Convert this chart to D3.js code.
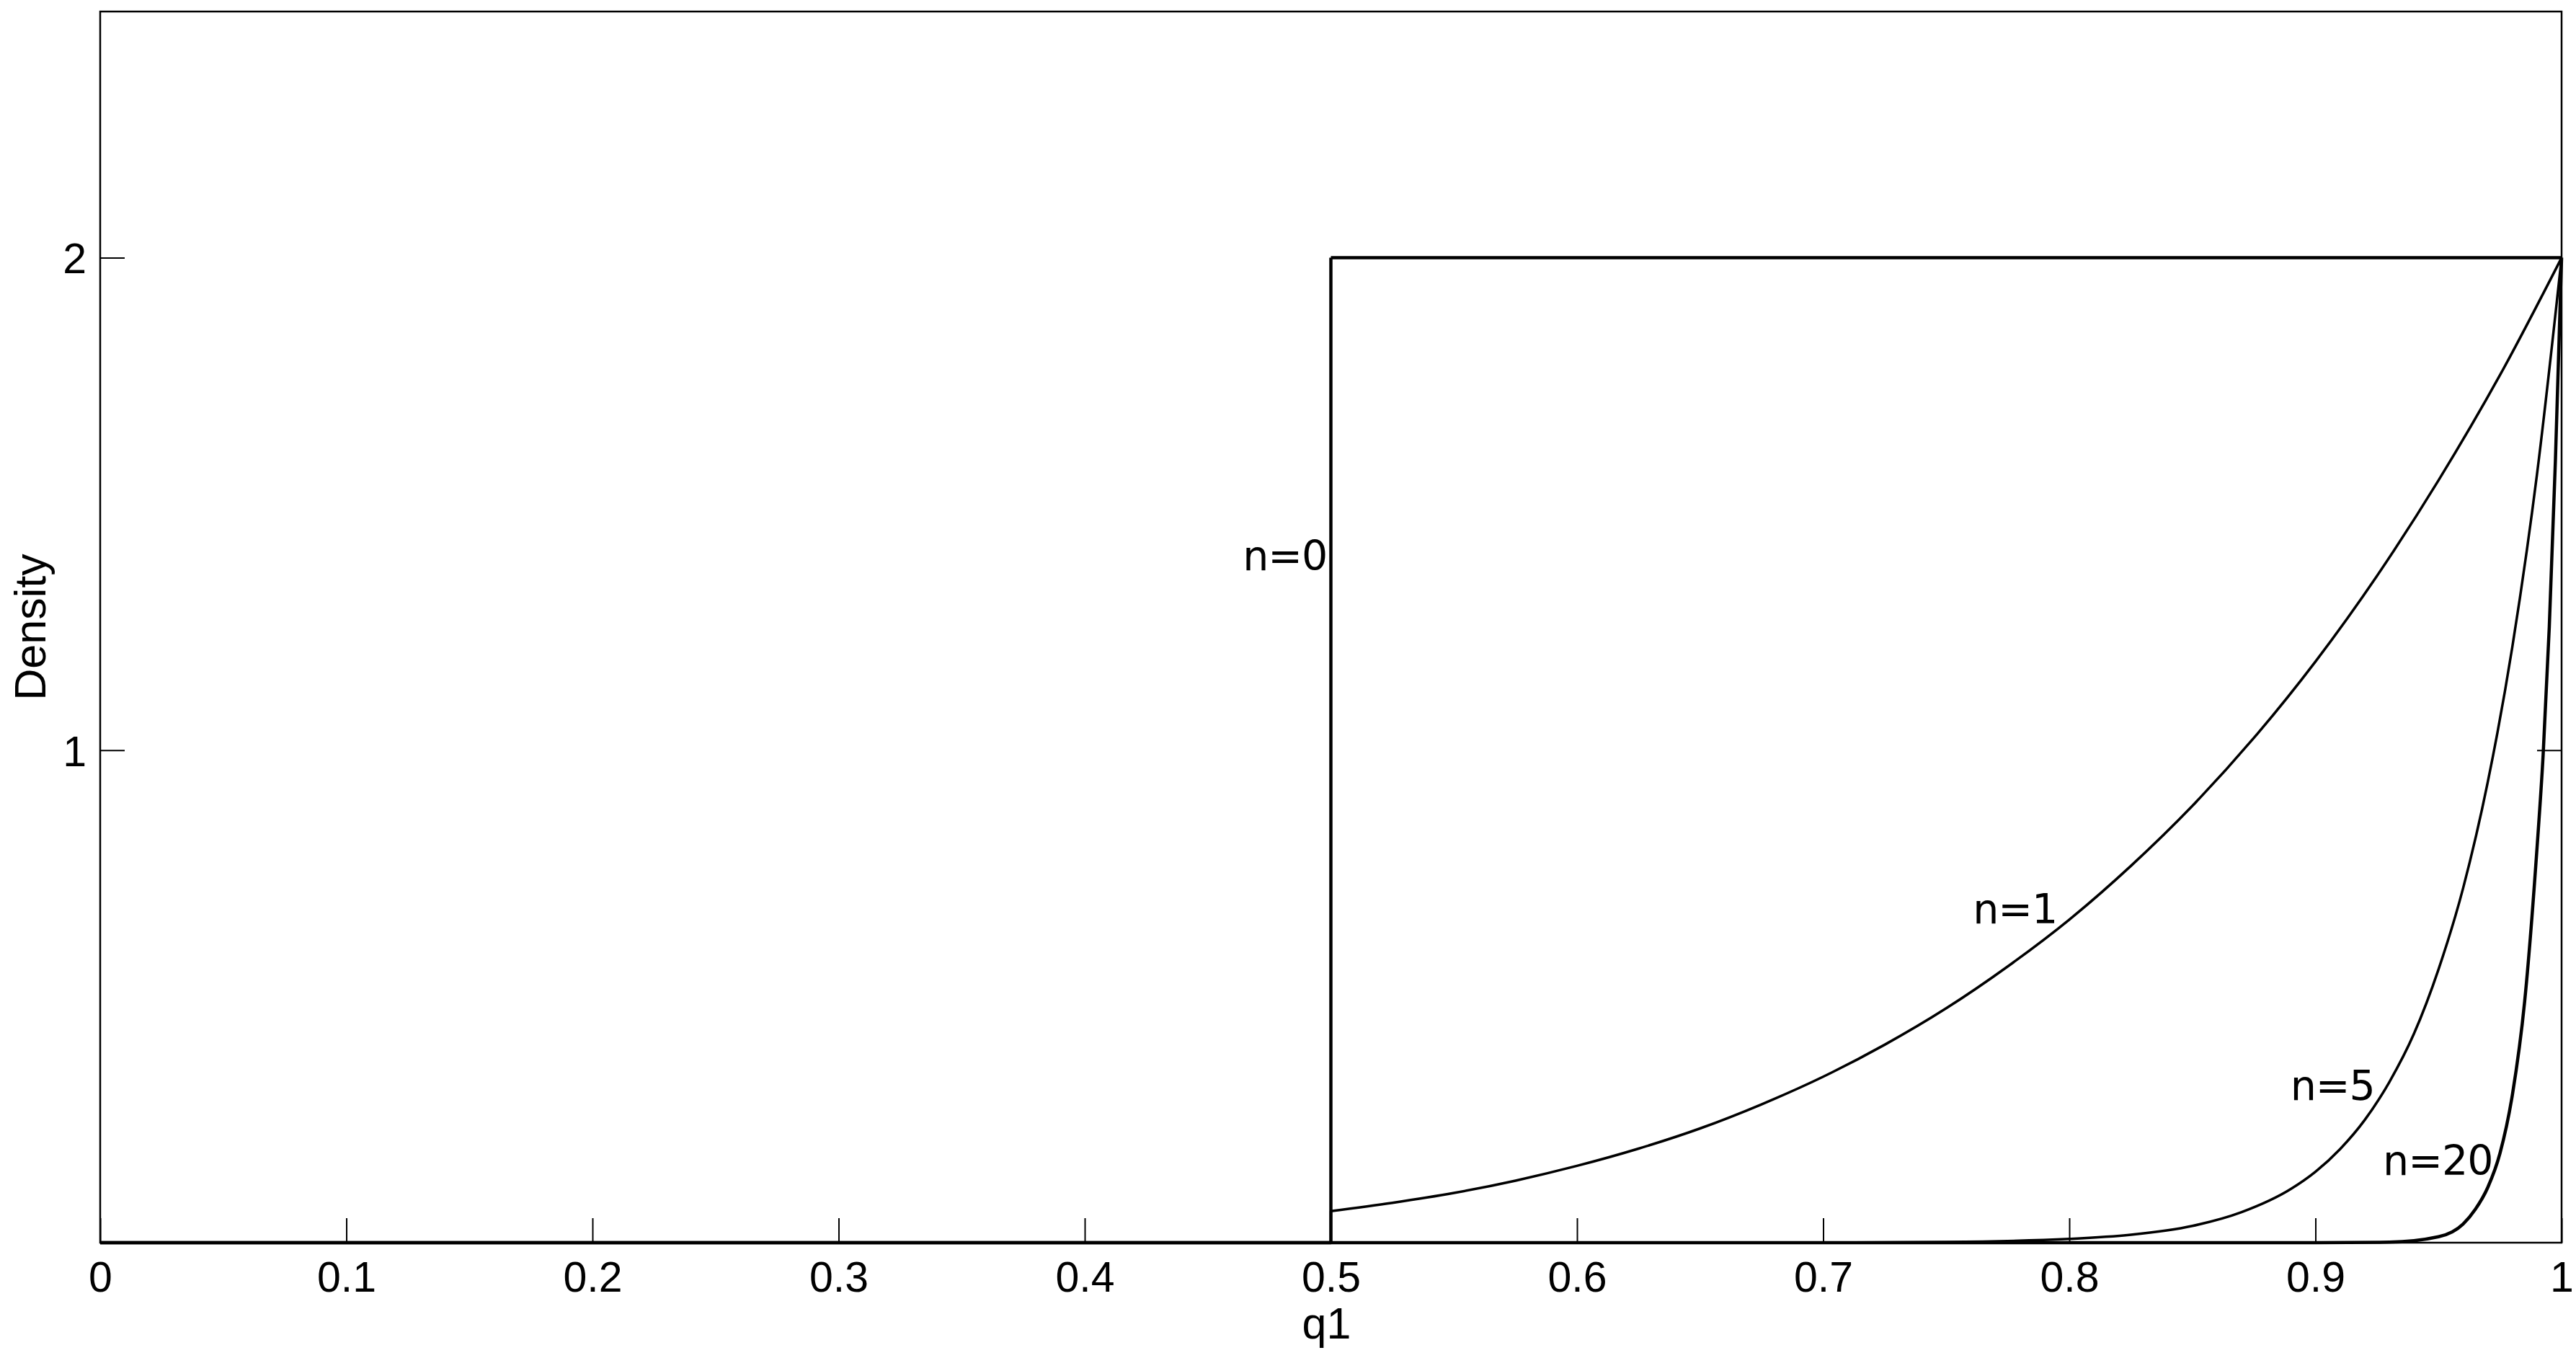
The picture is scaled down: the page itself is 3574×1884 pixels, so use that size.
<!DOCTYPE html>
<html>
<head>
<meta charset="utf-8">
<script src="https://cdn.jsdelivr.net/npm/d3@7"></script>
<style>
  html, body { margin: 0; padding: 0; background: #fff; }
  svg { display: block; }
</style>
</head>
<body>
<svg id="chart" width="3574" height="1884"></svg>
<script>
// ---- data ----
const xTickValues = [0, 0.1, 0.2, 0.3, 0.4, 0.5, 0.6, 0.7, 0.8, 0.9, 1];
const xTickLabels = ["0", "0.1", "0.2", "0.3", "0.4", "0.5", "0.6", "0.7", "0.8", "0.9", "1"];
const yTickValues = [1, 2];
const yTickLabels = ["1", "2"];

const n0Q = [0, 0.5, 0.5, 1];
const n0D = [0, 0, 2, 2];

const n1Q = [0, 0.5, 0.5, 0.525, 0.55, 0.575, 0.6, 0.625, 0.65, 0.675, 0.7, 0.725, 0.75, 0.775, 0.8, 0.825, 0.85, 0.875, 0.9, 0.925, 0.95, 0.975, 1];
const n1D = [0, 0, 0.064, 0.081, 0.101, 0.126, 0.156, 0.191, 0.232, 0.281, 0.337, 0.402, 0.476, 0.561, 0.656, 0.765, 0.887, 1.025, 1.18, 1.354, 1.548, 1.762, 2.0];

const n5Q = [0, 0.5, 0.6, 0.7, 0.75, 0.8, 0.825, 0.85, 0.87, 0.89, 0.9, 0.91, 0.92, 0.93, 0.94, 0.95, 0.96, 0.97, 0.98, 0.99, 1];
const n5D = [0, 0, 0, 0.0003, 0.0015, 0.0076, 0.016, 0.034, 0.062, 0.109, 0.144, 0.19, 0.249, 0.326, 0.424, 0.555, 0.72, 0.935, 1.21, 1.56, 2.0];

const n20Q = [0, 0.5, 0.8, 0.9, 0.93, 0.95, 0.96, 0.965, 0.97, 0.975, 0.98, 0.985, 0.99, 0.9925, 0.995, 0.9975, 1];
const n20D = [0, 0, 0, 0.0001, 0.001, 0.012, 0.038, 0.068, 0.112, 0.182, 0.30, 0.49, 0.80, 0.99, 1.25, 1.59, 2.0];

const seriesNames = ["n=0", "n=1", "n=5", "n=20"];

// ---- layout ----
const svg = d3.select("#chart");
const plotLeft = 139, plotRight = 3554, plotTop = 16, plotBottom = 1724;
const x = d3.scaleLinear().domain([0, 1]).range([plotLeft, plotRight]);
const y = d3.scaleLinear().domain([0, 2.5]).range([plotBottom, plotTop]);
const tickLen = 34;
const font = "'Liberation Sans', Arial, Helvetica, sans-serif";

// curves
const lineLin = d3.line().x(d => x(d[0])).y(d => y(d[1])).curve(d3.curveLinear);
const lineMono = d3.line().x(d => x(d[0])).y(d => y(d[1])).curve(d3.curveMonotoneX);

function drawSeries(qs, ds, w) {
  const pts = qs.map((q, i) => [q, ds[i]]);
  let k = 0;
  for (let i = 1; i < pts.length; i++) if (pts[i][0] <= pts[i - 1][0]) k = i;
  const g = svg.append("g").attr("fill", "none").attr("stroke", "#000")
    .attr("stroke-width", w).attr("stroke-linejoin", "round").attr("stroke-linecap", "butt");
  if (k > 0) g.append("path").attr("d", lineLin(pts.slice(0, k + 1)));
  g.append("path").attr("d", lineMono(pts.slice(k)));
}

// axes box
svg.append("rect").attr("x", plotLeft).attr("y", plotTop)
  .attr("width", plotRight - plotLeft).attr("height", plotBottom - plotTop)
  .attr("fill", "none").attr("stroke", "#000").attr("stroke-width", 2.5);

// x ticks (bottom, inward)
const gxb = svg.append("g").attr("transform", `translate(0,${plotBottom})`)
  .call(d3.axisBottom(x).tickValues(xTickValues).tickSize(0).tickFormat((d, i) => xTickLabels[i]));
gxb.select(".domain").remove();
gxb.selectAll(".tick text").attr("font-family", font).attr("font-size", 59)
  .attr("fill", "#000").attr("y", 0).attr("dy", "1.16em");
gxb.selectAll(".tick").append("line").attr("y1", 0).attr("y2", -tickLen)
  .attr("stroke", "#000").attr("stroke-width", 2);

// y ticks (left and right, inward)
const gyl = svg.append("g").attr("transform", `translate(${plotLeft},0)`)
  .call(d3.axisLeft(y).tickValues(yTickValues).tickSize(0).tickFormat((d, i) => yTickLabels[i]));
gyl.select(".domain").remove();
gyl.selectAll(".tick text").attr("font-family", font).attr("font-size", 59)
  .attr("fill", "#000").attr("x", -19).attr("dy", "0.36em");
gyl.selectAll(".tick").append("line").attr("x1", 0).attr("x2", tickLen)
  .attr("stroke", "#000").attr("stroke-width", 2);

const gyr = svg.append("g").attr("transform", `translate(${plotRight},0)`)
  .call(d3.axisRight(y).tickValues(yTickValues).tickSize(0).tickFormat(""));
gyr.select(".domain").remove();
gyr.selectAll(".tick").append("line").attr("x1", 0).attr("x2", -tickLen)
  .attr("stroke", "#000").attr("stroke-width", 2);

// series
drawSeries(n0Q, n0D, 4.5);
drawSeries(n1Q, n1D, 3.5);
drawSeries(n5Q, n5D, 3.5);
drawSeries(n20Q, n20D, 4.5);

// axis labels
svg.append("text").attr("x", (plotLeft + plotRight) / 2 - 6).attr("y", 1857)
  .attr("text-anchor", "middle").attr("font-family", font).attr("font-size", 61)
  .attr("fill", "#000").text("q1");
svg.append("text").attr("transform", `translate(63,${(plotTop + plotBottom) / 2}) rotate(-90)`)
  .attr("text-anchor", "middle").attr("font-family", font).attr("font-size", 61)
  .attr("fill", "#000").text("Density");

// curve labels
const labelFont = "'DejaVu Sans', Verdana, sans-serif";
const labels = [
  { t: seriesNames[0], q: 0.4985, v: 1.365, anchor: "end" },
  { t: seriesNames[1], q: 0.7608, v: 0.648, anchor: "start" },
  { t: seriesNames[2], q: 0.8898, v: 0.2904, anchor: "start" },
  { t: seriesNames[3], q: 0.9274, v: 0.138, anchor: "start" }
];
svg.append("g").selectAll("text").data(labels).join("text")
  .attr("x", d => x(d.q)).attr("y", d => y(d.v))
  .attr("text-anchor", d => d.anchor)
  .attr("font-family", labelFont).attr("font-size", 57)
  .attr("letter-spacing", -1)
  .attr("fill", "#000").text(d => d.t);
</script>
</body>
</html>
